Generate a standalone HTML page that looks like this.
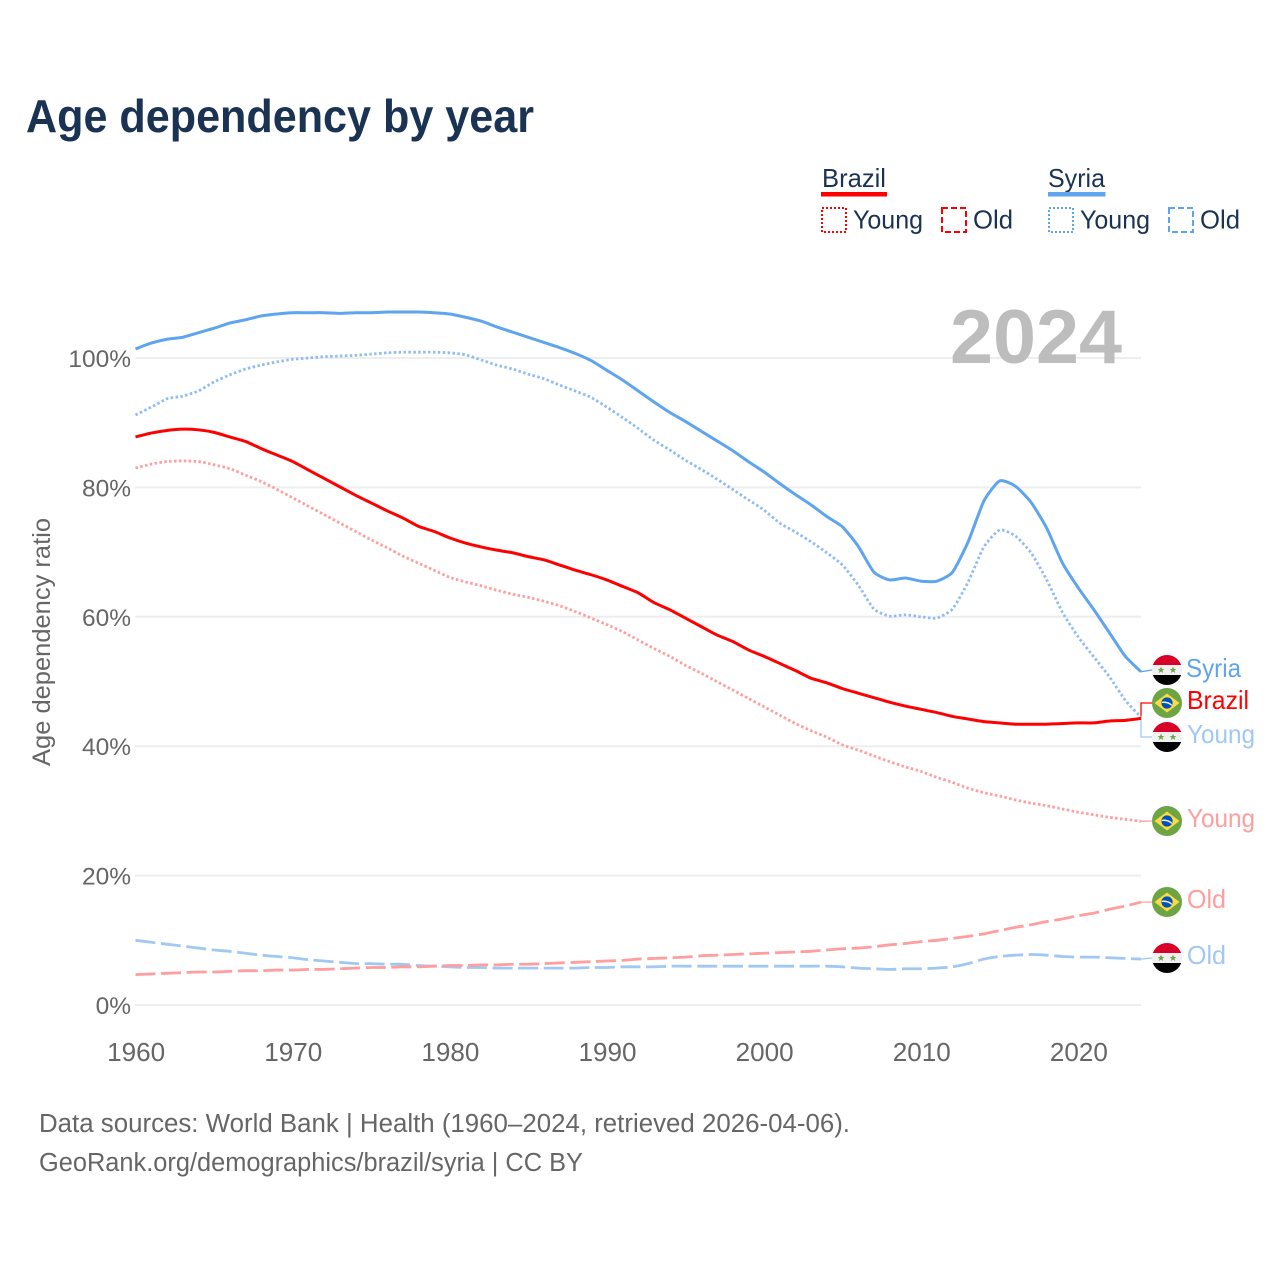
<!DOCTYPE html>
<html lang="en">
<head>
<meta charset="utf-8">
<title>Age dependency by year</title>
<style>
html,body{margin:0;padding:0;background:#fff}
svg{display:block}
text{font-family:"Liberation Sans",sans-serif}
</style>
</head>
<body>
<svg id="chart" width="1280" height="1280" viewBox="0 0 1280 1280" xmlns="http://www.w3.org/2000/svg">
  <defs>
    <clipPath id="flag-clip"><circle cx="0" cy="0" r="15"/></clipPath>
    <symbol id="flag-syria" overflow="visible">
      <g clip-path="url(#flag-clip)">
        <rect x="-15" y="-15" width="30" height="10" fill="#d80027"/>
        <rect x="-15" y="-5" width="30" height="10" fill="#f0f0f0"/>
        <rect x="-15" y="5" width="30" height="10" fill="#000"/>
        <polygon transform="translate(-6,0)" points="0,-3.4 1,-1 3.4,-1 1.5,.5 2.2,3 0,1.5 -2.2,3 -1.5,.5 -3.4,-1 -1,-1" fill="#6da544"/>
        <polygon transform="translate(6,0)" points="0,-3.4 1,-1 3.4,-1 1.5,.5 2.2,3 0,1.5 -2.2,3 -1.5,.5 -3.4,-1 -1,-1" fill="#6da544"/>
      </g>
    </symbol>
    <symbol id="flag-brazil" overflow="visible">
      <circle r="15" fill="#6da544"/>
      <polygon points="0,-9.5 12.5,0 0,9.5 -12.5,0" fill="#ffda44"/>
      <circle r="5.6" fill="#0052b4"/>
      <path d="M-5,-1.2 C-1.5,-2 2.5,-.8 5,1.6 L4.6,3 C2,.6 -1.5,-.6 -5.4,.2 Z" fill="#f0f0f0"/>
    </symbol>
  </defs>

  <text x="26" y="132" font-size="46" font-weight="700" fill="#1a3353" textLength="508" lengthAdjust="spacingAndGlyphs">Age dependency by year</text>

  <g id="legend">
    <g>
      <text x="822" y="187" font-size="26" fill="#1a3353" textLength="64" lengthAdjust="spacingAndGlyphs">Brazil</text>
      <rect x="821" y="192" width="66" height="4.5" fill="#ff0000"/>
      <rect x="822" y="208" width="24" height="24" fill="none" stroke="#ff0000" stroke-width="2" stroke-dasharray="2 2"/>
      <text x="853" y="228.5" font-size="26" fill="#1a3353" textLength="70" lengthAdjust="spacingAndGlyphs">Young</text>
      <rect x="942" y="208" width="24" height="24" fill="none" stroke="#ff0000" stroke-width="2" stroke-dasharray="6 3"/>
      <text x="973" y="228.5" font-size="26" fill="#1a3353" textLength="40" lengthAdjust="spacingAndGlyphs">Old</text>
    </g>
    <g>
      <text x="1048" y="187" font-size="26" fill="#1a3353" textLength="57" lengthAdjust="spacingAndGlyphs">Syria</text>
      <rect x="1048" y="192" width="57.5" height="4.5" fill="#5fa4ee"/>
      <rect x="1049" y="208" width="24" height="24" fill="none" stroke="#5fa4ee" stroke-width="2" stroke-dasharray="2 2"/>
      <text x="1080" y="228.5" font-size="26" fill="#1a3353" textLength="70" lengthAdjust="spacingAndGlyphs">Young</text>
      <rect x="1169" y="208" width="24" height="24" fill="none" stroke="#5fa4ee" stroke-width="2" stroke-dasharray="6 3"/>
      <text x="1200" y="228.5" font-size="26" fill="#1a3353" textLength="40" lengthAdjust="spacingAndGlyphs">Old</text>
    </g>
  </g>

  <g id="grid"></g>
  <text x="1122" y="363" font-size="76" font-weight="700" fill="#bdbdbd" text-anchor="end" textLength="172" lengthAdjust="spacingAndGlyphs">2024</text>
  <g id="y-axis"></g>
  <g id="x-axis"></g>
  <text transform="translate(50,642) rotate(-90)" font-size="25" fill="#666" text-anchor="middle" textLength="248" lengthAdjust="spacingAndGlyphs">Age dependency ratio</text>
  <g id="connectors"></g>
  <g id="series"></g>

  <g>
    <use href="#flag-syria" x="1167" y="670"/>
    <text x="1186" y="677" font-size="26" fill="#5fa4ee" textLength="55" lengthAdjust="spacingAndGlyphs">Syria</text>
    <use href="#flag-brazil" x="1167" y="703"/>
    <text x="1187" y="709" font-size="26" fill="#ff0000" textLength="62" lengthAdjust="spacingAndGlyphs">Brazil</text>
    <use href="#flag-syria" x="1167" y="737"/>
    <text x="1187" y="743" font-size="26" fill="#a0c8f3" textLength="68" lengthAdjust="spacingAndGlyphs">Young</text>
    <use href="#flag-brazil" x="1167" y="821"/>
    <text x="1187" y="827" font-size="26" fill="#ff9e9e" textLength="68" lengthAdjust="spacingAndGlyphs">Young</text>
    <use href="#flag-brazil" x="1167" y="902"/>
    <text x="1187" y="908" font-size="26" fill="#ff9e9e" textLength="39" lengthAdjust="spacingAndGlyphs">Old</text>
    <use href="#flag-syria" x="1167" y="958"/>
    <text x="1187" y="964" font-size="26" fill="#a0c8f3" textLength="39" lengthAdjust="spacingAndGlyphs">Old</text>
  </g>

  <text x="39" y="1132" font-size="25.5" fill="#666" textLength="811" lengthAdjust="spacingAndGlyphs">Data sources: World Bank | Health (1960–2024, retrieved 2026-04-06).</text>
  <text x="39" y="1171" font-size="25.5" fill="#666" textLength="544" lengthAdjust="spacingAndGlyphs">GeoRank.org/demographics/brazil/syria | CC BY</text>
</svg>

<script>
const firstYear = 1960;
const lastYear = 2024;
const yTicks = [0, 20, 40, 60, 80, 100];
const xTicks = [1960, 1970, 1980, 1990, 2000, 2010, 2020];

const syriaTotal = [101.4,102.3,102.9,103.2,103.9,104.6,105.4,105.9,106.5,106.8,107.0,107.0,107.0,106.9,107.0,107.0,107.1,107.1,107.1,107.0,106.8,106.3,105.7,104.8,104.0,103.2,102.4,101.6,100.7,99.6,98.1,96.6,94.9,93.2,91.6,90.2,88.7,87.2,85.7,84.0,82.4,80.6,78.9,77.3,75.5,73.9,70.9,66.9,65.7,66.0,65.5,65.5,66.9,71.6,77.9,81.0,80.2,77.7,73.7,68.3,64.5,61.1,57.5,53.9,51.5];
const syriaYoung = [91.2,92.4,93.7,94.1,94.9,96.3,97.4,98.3,98.9,99.4,99.8,100.0,100.2,100.3,100.4,100.6,100.8,100.9,100.9,100.9,100.8,100.5,99.7,98.9,98.3,97.5,96.8,95.8,94.9,93.9,92.4,90.8,89.1,87.3,85.8,84.2,82.8,81.3,79.7,78.1,76.5,74.5,73.1,71.6,69.9,68.0,64.9,61.2,60.1,60.3,60.0,59.8,61.2,65.4,70.8,73.4,72.5,69.9,65.7,60.7,56.9,53.8,50.7,47.1,44.5];
const syriaOld = [10.0,9.7,9.4,9.1,8.8,8.5,8.3,8.0,7.7,7.5,7.3,7.0,6.8,6.6,6.4,6.4,6.3,6.3,6.1,6.0,5.9,5.8,5.8,5.7,5.7,5.7,5.7,5.7,5.7,5.8,5.8,5.9,5.9,5.9,6.0,6.0,6.0,6.0,6.0,6.0,6.0,6.0,6.0,6.0,6.0,5.9,5.7,5.6,5.5,5.6,5.6,5.7,5.9,6.4,7.1,7.5,7.7,7.8,7.7,7.5,7.4,7.4,7.3,7.2,7.1];
const brazilTotal = [87.8,88.4,88.8,89.0,88.9,88.5,87.8,87.1,86.0,85.0,84.0,82.7,81.4,80.1,78.8,77.6,76.4,75.3,74.0,73.2,72.2,71.4,70.8,70.3,69.9,69.3,68.8,68.0,67.2,66.5,65.7,64.7,63.7,62.2,61.1,59.8,58.5,57.2,56.2,54.9,53.9,52.8,51.7,50.5,49.8,48.9,48.2,47.5,46.8,46.2,45.7,45.2,44.6,44.2,43.8,43.6,43.4,43.4,43.4,43.5,43.6,43.6,43.9,44.0,44.3];
const brazilYoung = [83.0,83.6,84.0,84.1,84.0,83.5,82.9,81.9,80.9,79.7,78.4,77.1,75.8,74.5,73.2,71.9,70.7,69.4,68.3,67.2,66.1,65.4,64.8,64.1,63.5,63.0,62.4,61.7,60.8,59.8,58.8,57.7,56.4,55.1,53.9,52.5,51.3,50.0,48.7,47.4,46.1,44.8,43.5,42.4,41.4,40.2,39.4,38.5,37.6,36.8,36.1,35.2,34.4,33.5,32.8,32.3,31.7,31.2,30.8,30.3,29.8,29.4,29.0,28.7,28.4];
const brazilOld = [4.7,4.8,4.9,5.0,5.1,5.1,5.2,5.3,5.3,5.4,5.4,5.5,5.5,5.6,5.7,5.8,5.8,5.9,5.9,6.0,6.1,6.1,6.2,6.2,6.3,6.3,6.4,6.5,6.6,6.7,6.8,6.9,7.1,7.2,7.3,7.4,7.6,7.7,7.8,7.9,8.0,8.1,8.2,8.3,8.5,8.7,8.8,9.0,9.3,9.5,9.8,10.0,10.3,10.6,11.0,11.5,12.0,12.4,12.9,13.3,13.8,14.2,14.8,15.3,15.9];

const NS = 'http://www.w3.org/2000/svg';
const xLeft = 135.5, xRight = 1141, yZero = 1005, yHundred = 358;
function xScale(year) { return xLeft + (year - firstYear) * (xRight - xLeft) / (lastYear - firstYear); }
function yScale(v) { return yZero + v * (yHundred - yZero) / 100; }
function make(tag, attrs, parent) {
  const el = document.createElementNS(NS, tag);
  for (const k in attrs) el.setAttribute(k, attrs[k]);
  parent.appendChild(el);
  return el;
}

const gridG = document.getElementById('grid');
const yAxisG = document.getElementById('y-axis');
const xAxisG = document.getElementById('x-axis');
const seriesG = document.getElementById('series');
const connG = document.getElementById('connectors');

yTicks.forEach(function (t) {
  const line = make('line', {x1: xLeft - 0.5, x2: xRight, y1: yScale(t), y2: yScale(t), stroke: '#eeeeee', 'stroke-width': 2}, gridG);
  
  
  const label = make('text', {x: 131, y: yScale(t) + 9, 'font-size': 24.5, fill: '#666', 'text-anchor': 'end'}, yAxisG);
  label.textContent = t + '%';
  
  
});

xTicks.forEach(function (t) {
  const label = make('text', {x: xScale(t) + 0.7, y: 1061, 'font-size': 25.5, fill: '#666', 'text-anchor': 'middle', textLength: 58, lengthAdjust: 'spacingAndGlyphs'}, xAxisG);
  label.textContent = t;
  
  
});

function smoothPath(values) {
  const p = values.map(function (v, i) { return [xScale(firstYear + i), yScale(v)]; });
  const k = 0.1;
  let d = 'M' + p[0][0].toFixed(2) + ' ' + p[0][1].toFixed(2);
  for (let i = 0; i < p.length - 1; i++) {
    const a = p[Math.max(i - 1, 0)], b = p[i], c = p[i + 1], e = p[Math.min(i + 2, p.length - 1)];
    d += ' C' + (b[0] + (c[0] - a[0]) * k).toFixed(2) + ' ' + (b[1] + (c[1] - a[1]) * k).toFixed(2) +
         ' ' + (c[0] - (e[0] - b[0]) * k).toFixed(2) + ' ' + (c[1] - (e[1] - b[1]) * k).toFixed(2) +
         ' ' + c[0].toFixed(2) + ' ' + c[1].toFixed(2);
  }
  return d;
}

function drawSeries(name, values, color, width, dash) {
  const attrs = {d: smoothPath(values), fill: 'none', stroke: color, 'stroke-width': width, 'stroke-linejoin': 'round'};
  if (dash) attrs['stroke-dasharray'] = dash;
  const line = make('path', attrs, seriesG);
  
  
}

function drawConnector(name, value, labelY, color) {
  const yEnd = yScale(value);
  const straight = Math.abs(yEnd - labelY) < 4;
  const pts = straight
    ? xRight + ',' + yEnd + ' 1152,' + labelY
    : xRight + ',' + yEnd + ' ' + xRight + ',' + labelY + ' 1152,' + labelY;
  const c = make('polyline', {points: pts, fill: 'none', stroke: color, 'stroke-width': 1.3}, connG);
  
  
}

drawConnector('connector-syria', syriaTotal[syriaTotal.length - 1], 670, '#5fa4ee');
drawConnector('connector-brazil', brazilTotal[brazilTotal.length - 1], 703, '#ff0000');
drawConnector('connector-syria-young', syriaYoung[syriaYoung.length - 1], 737, '#a0c8f3');
drawConnector('connector-brazil-young', brazilYoung[brazilYoung.length - 1], 821, '#ff9e9e');
drawConnector('connector-brazil-old', brazilOld[brazilOld.length - 1], 902, '#ff9e9e');
drawConnector('connector-syria-old', syriaOld[syriaOld.length - 1], 958, '#a0c8f3');

drawSeries('line-syria-old', syriaOld, '#a0c8f3', 2.8, '20 5.6');
drawSeries('line-brazil-old', brazilOld, '#ff9e9e', 2.8, '20 5.6');
drawSeries('line-brazil-young', brazilYoung, '#ff9e9e', 2.8, '2.5 2.4');
drawSeries('line-syria-young', syriaYoung, '#8fbdf1', 2.8, '2.5 2.4');
drawSeries('line-syria-total', syriaTotal, '#5fa4ee', 3);
drawSeries('line-brazil-total', brazilTotal, '#ff0000', 3);
</script>
</body>
</html>
